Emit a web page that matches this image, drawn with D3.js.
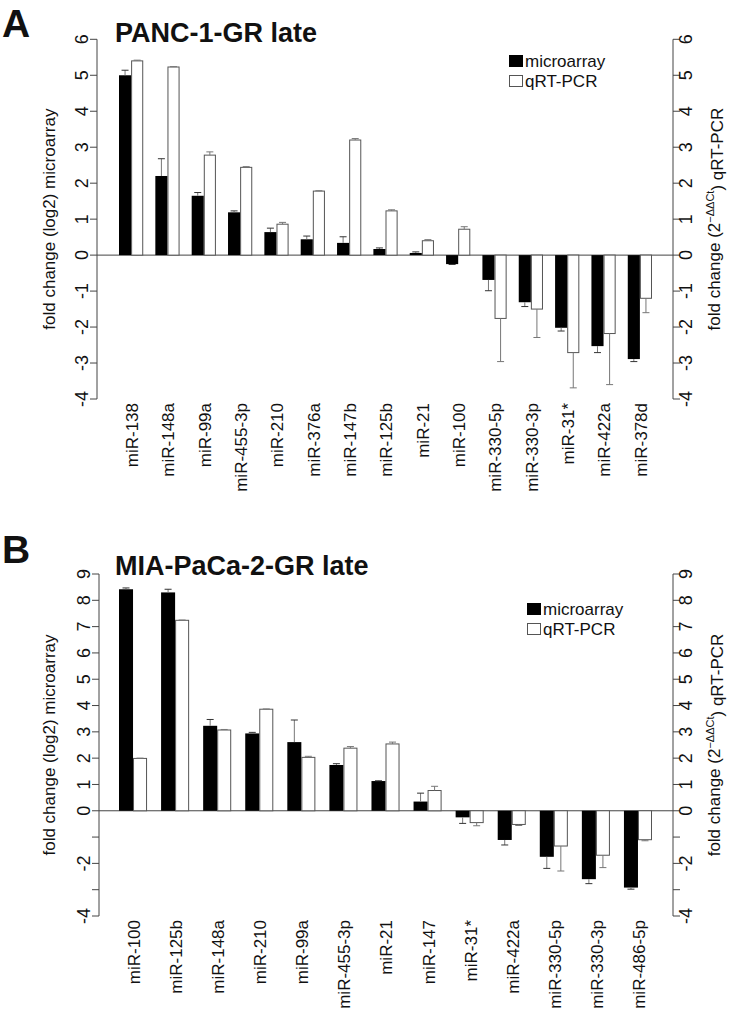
<!DOCTYPE html>
<html>
<head>
<meta charset="utf-8">
<script src="https://cdnjs.cloudflare.com/ajax/libs/d3/7.8.5/d3.min.js"></script>
<style>
  body { margin: 0; background: #fff; }
  text { font-family: "Liberation Sans", Arial, sans-serif; fill: #111; }
</style>
</head>
<body>
<div id="chart"></div>
<script>
// Panel A: PANC-1-GR late
var mirA = ["miR-138", "miR-148a", "miR-99a", "miR-455-3p", "miR-210", "miR-376a", "miR-147b",
  "miR-125b", "miR-21", "miR-100", "miR-330-5p", "miR-330-3p", "miR-31*", "miR-422a", "miR-378d"];
var microA = [5.0, 2.2, 1.65, 1.19, 0.64, 0.44, 0.34, 0.17, 0.06, -0.25, -0.69, -1.31, -2.02, -2.53, -2.89];
var microErrA = [0.14, 0.48, 0.09, 0.04, 0.11, 0.09, 0.17, 0.03, 0.03, 0.01, 0.30, 0.12, 0.09, 0.18, 0.07];
var qpcrA = [5.4, 5.23, 2.78, 2.44, 0.86, 1.78, 3.2, 1.23, 0.4, 0.72, -1.76, -1.5, -2.71, -2.18, -1.2];
var qpcrErrA = [0.02, 0.01, 0.09, 0.02, 0.05, 0.01, 0.04, 0.03, 0.03, 0.07, 1.2, 0.79, 0.98, 1.42, 0.4];
var ticksA = [-4, -3, -2, -1, 0, 1, 2, 3, 4, 5, 6];
var tickLabelsA = ["-4", "-3", "-2", "-1", "0", "1", "2", "3", "4", "5", "6"];

// Panel B: MIA-PaCa-2-GR late
var mirB = ["miR-100", "miR-125b", "miR-148a", "miR-210", "miR-99a", "miR-455-3p", "miR-21",
  "miR-147", "miR-31*", "miR-422a", "miR-330-5p", "miR-330-3p", "miR-486-5p"];
var microB = [8.42, 8.3, 3.23, 2.94, 2.61, 1.74, 1.13, 0.35, -0.25, -1.11, -1.75, -2.6, -2.92];
var microErrB = [0.05, 0.12, 0.24, 0.04, 0.84, 0.05, 0.01, 0.32, 0.23, 0.19, 0.44, 0.17, 0.06];
var qpcrB = [1.99, 7.24, 3.07, 3.86, 2.03, 2.38, 2.54, 0.77, -0.45, -0.52, -1.34, -1.69, -1.1];
var qpcrErrB = [0.01, 0.01, 0.02, 0.01, 0.04, 0.06, 0.07, 0.16, 0.12, 0.04, 0.95, 0.47, 0.04];
var ticksB = [-4, -3, -2, -1, 0, 1, 2, 3, 4, 5, 6, 7, 8, 9];
var tickLabelsB = ["-4", "", "-2", "", "0", "1", "2", "3", "4", "5", "6", "7", "8", "9"];

var series = ["microarray", "qRT-PCR"];

var svgWidth = 734;
var svgHeight = 1020;

var svg = d3.select("#chart")
  .append("svg")
  .attr("width", svgWidth)
  .attr("height", svgHeight);

var axisColor = "#444";
var errColor = "#777";

function drawPanel(p) {
  var g = svg.append("g");

  var rows = p.labels.map(function(lab, i) {
    return {
      label: lab,
      vals: [
        { key: series[0], v: p.micro[i], e: p.microErr[i] },
        { key: series[1], v: p.qpcr[i], e: p.qpcrErr[i] }
      ]
    };
  });

  var y = d3.scaleLinear().domain([-4, p.yMax]).range([p.bottom, p.top]);

  // groups: two bars wide, one bar of gap between them
  var x0 = d3.scaleBand()
    .domain(p.labels)
    .range([119, 652])
    .paddingInner(1 / 3)
    .paddingOuter(0);

  var x1 = d3.scaleBand()
    .domain(series)
    .range([0, x0.bandwidth()]);

  // zero line
  g.append("line")
    .attr("x1", p.axisL).attr("x2", p.axisR)
    .attr("y1", y(0)).attr("y2", y(0))
    .attr("stroke", axisColor).attr("stroke-width", 1);

  var groups = g.selectAll(".grp")
    .data(rows)
    .enter()
    .append("g")
    .attr("transform", d => `translate(${x0(d.label)},0)`);

  var bars = groups.selectAll("g")
    .data(d => d.vals)
    .enter()
    .append("g");

  bars.append("rect")
    .attr("x", d => x1(d.key) + (d.key == "microarray" ? 0 : 0.5))
    .attr("width", d => x1.bandwidth() - (d.key == "microarray" ? 0 : 1))
    .attr("y", d => y(Math.max(0, d.v)))
    .attr("height", d => Math.abs(y(d.v) - y(0)))
    .attr("fill", d => d.key == "microarray" ? "#000" : "#fff")
    .attr("stroke", d => d.key == "microarray" ? "none" : "#555")
    .attr("stroke-width", 1);

  // error bars, drawn only away from zero
  bars.append("line")
    .attr("x1", d => x1(d.key) + x1.bandwidth() / 2)
    .attr("x2", d => x1(d.key) + x1.bandwidth() / 2)
    .attr("y1", d => y(d.v))
    .attr("y2", d => y(d.v + (d.v >= 0 ? d.e : -d.e)))
    .attr("stroke", errColor).attr("stroke-width", 1);

  bars.append("line")
    .attr("x1", d => x1(d.key) + x1.bandwidth() / 2 - 3.5)
    .attr("x2", d => x1(d.key) + x1.bandwidth() / 2 + 3.5)
    .attr("y1", d => y(d.v + (d.v >= 0 ? d.e : -d.e)))
    .attr("y2", d => y(d.v + (d.v >= 0 ? d.e : -d.e)))
    .attr("stroke", d => d.key == "microarray" ? "#333" : errColor)
    .attr("stroke-width", 1);

  // left and right axes
  [{ x: p.axisL, dir: -1, lx: p.axisL - 15 }, { x: p.axisR, dir: 1, lx: p.axisR + 13 }].forEach(function(ax) {
    var a = g.append("g");
    a.append("line")
      .attr("x1", ax.x).attr("x2", ax.x)
      .attr("y1", y(p.yMax)).attr("y2", y(-4))
      .attr("stroke", axisColor);
    a.selectAll(".tk")
      .data(p.ticks)
      .enter()
      .append("line")
      .attr("x1", ax.x).attr("x2", ax.x + ax.dir * 7)
      .attr("y1", d => y(d)).attr("y2", d => y(d))
      .attr("stroke", axisColor);
    a.selectAll(".tl")
      .data(p.ticks)
      .enter()
      .append("text")
      .attr("transform", d => `translate(${ax.lx},${y(d)}) rotate(-90)`)
      .attr("dy", "0.35em")
      .attr("text-anchor", "middle")
      .style("font-size", "18px")
      .text((d, i) => p.tickLabels[i]);
  });

  // category labels
  g.selectAll(".cat")
    .data(p.labels)
    .enter()
    .append("text")
    .attr("transform", d => `translate(${x0(d) + x0.bandwidth() / 2 + 1},${y(-4) + 4}) rotate(-90)`)
    .attr("dy", "0.35em")
    .attr("text-anchor", "end")
    .style("font-size", "17px")
    .text(d => d);

  // axis titles
  var midY = (y(p.yMax) + y(-4)) / 2;
  g.append("text")
    .attr("transform", `translate(49,${midY}) rotate(-90)`)
    .attr("dy", "0.35em")
    .attr("text-anchor", "middle")
    .style("font-size", "17px")
    .text("fold change (log2) microarray");

  var rt = g.append("text")
    .attr("transform", `translate(714,${midY}) rotate(-90)`)
    .attr("dy", "0.35em")
    .attr("text-anchor", "middle")
    .style("font-size", "17px");
  rt.append("tspan").text("fold change (2");
  rt.append("tspan").attr("dy", "-0.55em").style("font-size", "11px").text("\u2212\u0394\u0394Ct");
  rt.append("tspan").attr("dy", "0.55em").text(") qRT-PCR");

  // panel letter and title
  g.append("text")
    .attr("x", 2).attr("y", p.letterY)
    .style("font-size", "39px").style("font-weight", "bold")
    .text(p.letter);
  g.append("text")
    .attr("x", 115).attr("y", p.titleY)
    .style("font-size", p.titleSize).style("font-weight", "bold")
    .text(p.title);

  // legend
  var leg = g.append("g").attr("transform", `translate(${p.legX},${p.legY})`);
  leg.selectAll("rect")
    .data(series)
    .enter()
    .append("rect")
    .attr("x", 0.5)
    .attr("y", (d, i) => i * 20 - 11.5)
    .attr("width", 13).attr("height", 11)
    .attr("fill", (d, i) => i == 0 ? "#000" : "#fff")
    .attr("stroke", (d, i) => i == 0 ? "#000" : "#555");
  leg.selectAll("text")
    .data(series)
    .enter()
    .append("text")
    .attr("x", 16)
    .attr("y", (d, i) => i * 20)
    .style("font-size", "17px")
    .text(d => d);
}

drawPanel({
  labels: mirA, micro: microA, microErr: microErrA, qpcr: qpcrA, qpcrErr: qpcrErrA,
  ticks: ticksA, tickLabels: tickLabelsA, yMax: 6,
  top: 39.3, bottom: 399, axisL: 97, axisR: 673,
  letter: "A", letterY: 37, title: "PANC-1-GR late", titleY: 42, titleSize: "27px",
  legX: 509, legY: 67
});

drawPanel({
  labels: mirB, micro: microB, microErr: microErrB, qpcr: qpcrB, qpcrErr: qpcrErrB,
  ticks: ticksB, tickLabels: tickLabelsB, yMax: 9,
  top: 574, bottom: 916, axisL: 99, axisR: 673,
  letter: "B", letterY: 563, title: "MIA-PaCa-2-GR late", titleY: 575, titleSize: "27px",
  legX: 527, legY: 615
});
</script>
</body>
</html>
